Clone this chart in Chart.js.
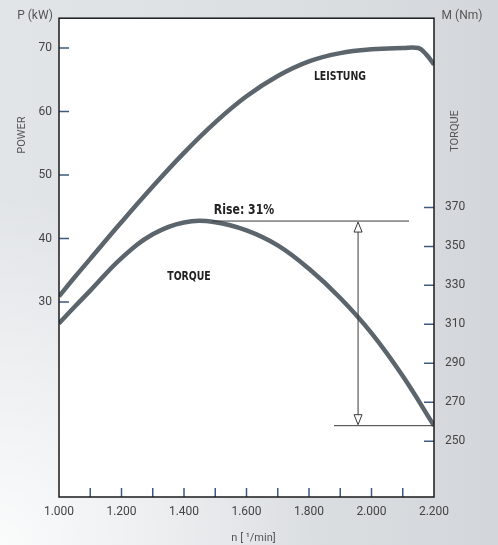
<!DOCTYPE html>
<html>
<head>
<meta charset="utf-8">
<script src="https://cdn.jsdelivr.net/npm/chart.js@4/dist/chart.umd.min.js"></script>
<style>
  html, body { margin: 0; padding: 0; }
  body {
    width: 498px; height: 545px; overflow: hidden;
    background:
      radial-gradient(ellipse at 0% 100%, rgba(255,255,255,0.85), rgba(255,255,255,0) 45%),
      linear-gradient(to right, #e2e5e8, #dde0e3 50%, #d3d7db);
  }
  #wrap { position: relative; width: 498px; height: 545px; }
</style>
</head>
<body>
<div id="wrap"><canvas id="chart"></canvas></div>
<script>
// engine curves
const powerRpm = [1000, 1050, 1100, 1200, 1300, 1400, 1500, 1600, 1700, 1800, 1900, 2000, 2100, 2150, 2175, 2200]
const powerKw  = [30.9, 33.9, 36.8, 42.6, 48.2, 53.5, 58.3, 62.4, 65.6, 67.9, 69.2, 69.8, 70.0, 70.0, 69.0, 67.4]

const torqueRpm = [1000, 1050, 1100, 1200, 1300, 1400, 1500, 1600, 1700, 1800, 1900, 2000, 2100, 2200]
const torqueNm  = [310.5, 319.0, 327.3, 344.0, 356.2, 362.3, 362.4, 358.2, 350.5, 338.5, 323.5, 305.5, 283.5, 258]

const powerTicks = [30, 40, 50, 60, 70]
const torqueTicks = [250, 270, 290, 310, 330, 350, 370]

// torque rise annotation (rpm / Nm)
const risePeak = 363
const riseLow = 258
const risePeakFrom = [1490, 2120]
const riseLowFrom = [1880, 2200]
const riseArrowRpm = 1957
const riseText = 'Rise: 31%'

const lineColor = '#5d656c'
const tickColor = '#3d5a80'
const labelFont = "12px Roboto, 'Liberation Sans', sans-serif"

const fmtRpm = v => (v / 1000).toFixed(3)

// condensed bold captions: squeeze a normal bold face
function narrowText(ctx, text, x, y, size, sx) {
  ctx.save()
  ctx.translate(x, y)
  ctx.scale(sx, 1)
  ctx.font = 'bold ' + size + "px 'DejaVu Sans', sans-serif"
  ctx.fillText(text, 0, 0)
  ctx.restore()
}

const decor = {
  id: 'decor',
  beforeDraw(chart) {
    const { ctx, chartArea: a } = chart
    ctx.save()
    ctx.fillStyle = '#fff'
    ctx.fillRect(a.left, a.top, a.right - a.left, a.bottom - a.top)
    ctx.restore()
  },
  afterDraw(chart) {
    const { ctx, chartArea: a, scales } = chart
    const x = scales.x, yp = scales.y, yt = scales.y1
    ctx.save()

    // tick marks drawn inside the plot
    ctx.strokeStyle = tickColor
    ctx.lineWidth = 1.5
    ctx.beginPath()
    x.ticks.forEach(t => {
      if (t.value <= x.min || t.value >= x.max) return
      const px = x.getPixelForValue(t.value)
      ctx.moveTo(px, a.bottom); ctx.lineTo(px, a.bottom - 9)
    })
    yp.ticks.forEach(t => {
      const py = yp.getPixelForValue(t.value)
      ctx.moveTo(a.left, py); ctx.lineTo(a.left + 10, py)
    })
    yt.ticks.forEach(t => {
      const py = yt.getPixelForValue(t.value)
      ctx.moveTo(a.right, py); ctx.lineTo(a.right - 10, py)
    })
    ctx.stroke()

    // frame
    ctx.strokeStyle = '#1a1a1a'
    ctx.lineWidth = 1.5
    ctx.strokeRect(a.left, a.top, a.right - a.left, a.bottom - a.top)

    // rise lines
    const yTop = yt.getPixelForValue(risePeak)
    const yLow = yt.getPixelForValue(riseLow)
    const ax = x.getPixelForValue(riseArrowRpm)
    ctx.strokeStyle = '#3a3a3a'
    ctx.lineWidth = 1
    ctx.beginPath()
    ctx.moveTo(x.getPixelForValue(risePeakFrom[0]), yTop)
    ctx.lineTo(x.getPixelForValue(risePeakFrom[1]), yTop)
    ctx.moveTo(x.getPixelForValue(riseLowFrom[0]), yLow)
    ctx.lineTo(x.getPixelForValue(riseLowFrom[1]), yLow)
    ctx.moveTo(ax, yTop + 10); ctx.lineTo(ax, yLow - 10)
    ctx.stroke()
    ctx.fillStyle = '#fff'
    ctx.beginPath()
    ctx.moveTo(ax, yTop + 1); ctx.lineTo(ax - 4, yTop + 11); ctx.lineTo(ax + 4, yTop + 11); ctx.closePath()
    ctx.fill(); ctx.stroke()
    ctx.beginPath()
    ctx.moveTo(ax, yLow - 1); ctx.lineTo(ax - 4, yLow - 11); ctx.lineTo(ax + 4, yLow - 11); ctx.closePath()
    ctx.fill(); ctx.stroke()

    // curve names
    ctx.fillStyle = '#222'
    ctx.textAlign = 'center'
    ctx.textBaseline = 'middle'
    narrowText(ctx, 'LEISTUNG', x.getPixelForValue(1899), yp.getPixelForValue(65.5), 12, 0.78)
    narrowText(ctx, 'TORQUE', x.getPixelForValue(1416), yt.getPixelForValue(334.4), 12, 0.78)
    narrowText(ctx, riseText, x.getPixelForValue(1592), yt.getPixelForValue(368.7), 14, 0.78)

    // axis titles
    ctx.fillStyle = '#555'
    ctx.font = labelFont
    ctx.fillText('P (kW)', 35, 16)
    ctx.fillText('M (Nm)', 462, 16)
    ctx.font = "11px Roboto, 'Liberation Sans', sans-serif"
    ctx.fillText('n [ \u00B9/min]', (a.left + a.right) / 2 + 7, 538)
    ctx.translate(22, 135)
    ctx.rotate(-Math.PI / 2)
    ctx.fillText('POWER', 0, 0)
    ctx.rotate(Math.PI / 2)
    ctx.translate(455 - 22, 131 - 135)
    ctx.rotate(-Math.PI / 2)
    ctx.fillText('TORQUE', 0, 0)
    ctx.restore()
  }
}

new Chart(document.getElementById('chart'), {
  type: 'line',
  data: {
    datasets: [{
      label: 'Leistung',
      data: powerRpm.map((r, i) => ({ x: r, y: powerKw[i] })),
      yAxisID: 'y',
      borderColor: lineColor,
      borderWidth: 4.5,
      tension: 0.4,
      pointRadius: 0
    }, {
      label: 'Torque',
      data: torqueRpm.map((r, i) => ({ x: r, y: torqueNm[i] })),
      yAxisID: 'y1',
      borderColor: lineColor,
      borderWidth: 4.5,
      tension: 0.4,
      pointRadius: 0
    }]
  },
  options: {
    responsive: true,
    maintainAspectRatio: false,
    animation: false,
    layout: { padding: { top: 10, left: 0, right: 0, bottom: 0 } },
    plugins: { legend: { display: false }, tooltip: { enabled: false } },
    scales: {
      x: {
        type: 'linear',
        min: 1000,
        max: 2200,
        afterFit: s => { s.height = 48 },
        grid: { display: false, drawTicks: false },
        border: { display: false },
        ticks: {
          stepSize: 100,
          autoSkip: false,
          maxRotation: 0,
          padding: 8,
          color: '#444',
          font: { family: 'Roboto', size: 12 },
          callback: v => (v % 200 === 0 ? fmtRpm(v) : '')
        }
      },
      y: {
        position: 'left',
        min: -0.7,
        max: 74.7,
        afterFit: s => { s.width = 59 },
        afterBuildTicks: s => { s.ticks = powerTicks.map(v => ({ value: v })) },
        grid: { display: false, drawTicks: false },
        border: { display: false },
        ticks: { padding: 7, color: '#444', font: { family: 'Roboto', size: 12 } }
      },
      y1: {
        position: 'right',
        min: 221.4,
        max: 467.1,
        afterFit: s => { s.width = 64 },
        afterBuildTicks: s => { s.ticks = torqueTicks.map(v => ({ value: v })) },
        grid: { display: false, drawTicks: false },
        border: { display: false },
        ticks: { padding: 11, color: '#444', font: { family: 'Roboto', size: 12 } }
      }
    }
  },
  plugins: [decor]
})
</script>
</body>
</html>
